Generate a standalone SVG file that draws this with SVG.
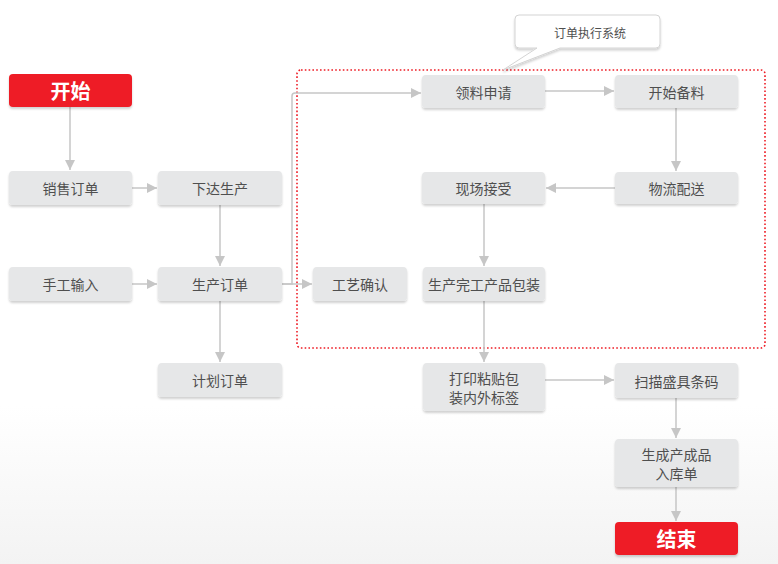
<svg xmlns="http://www.w3.org/2000/svg" width="778" height="564" viewBox="0 0 778 564">
<defs>
<linearGradient id="bg" x1="0" y1="0" x2="0" y2="1">
<stop offset="0.72" stop-color="#ffffff"/>
<stop offset="1" stop-color="#f3f3f3"/>
</linearGradient>
<marker id="arr" viewBox="0 0 10 10" refX="10" refY="5" markerWidth="10" markerHeight="10" markerUnits="userSpaceOnUse" orient="auto">
<path d="M0,0 L10,5 L0,10 z" fill="#c6c6c6"/>
</marker>
<filter id="sh" x="-10%" y="-10%" width="120%" height="140%">
<feDropShadow dx="0" dy="2" stdDeviation="1" flood-color="#000" flood-opacity="0.18"/>
</filter>
</defs>
<style>
.n rect{fill:#e6e7e8;filter:url(#sh)}
.n text,.lbl{font-family:"Noto Sans CJK SC","Liberation Sans",sans-serif;font-size:14px;fill:#4f4f4f;text-anchor:middle;dominant-baseline:central}
.t rect{fill:#ee1c25;filter:url(#sh)}
.t text{font-family:"Noto Sans CJK SC","Liberation Sans",sans-serif;font-size:20px;font-weight:bold;fill:#fff;text-anchor:middle;dominant-baseline:central}
.c{fill:none;stroke:#c6c6c6;stroke-width:1.5;marker-end:url(#arr)}
</style>
<rect width="778" height="564" fill="url(#bg)"/>

<g id="system">
<rect x="297" y="70" width="468" height="278" rx="4" fill="none" stroke="#ee1c25" stroke-width="1.6" stroke-dasharray="1.6 2.2"/>
<g filter="url(#sh)">
<path d="M519,15 H656 a4,4 0 0 1 4,4 V44 a4,4 0 0 1 -4,4 H560 L503,70 L537,48 H519 a4,4 0 0 1 -4,-4 V19 a4,4 0 0 1 4,-4 z" fill="#fff" stroke="#d4d4d4" stroke-width="1"/>
</g>
<text class="lbl" x="590" y="32" style="font-size:12px">订单执行系统</text>
</g>

<g id="connectors">
<path class="c" d="M70,107 V170"/>
<path class="c" d="M132,188 H157"/>
<path class="c" d="M220,205 V266"/>
<path class="c" d="M132,284 H157"/>
<path class="c" d="M220,301 V362"/>
<path class="c" d="M282,284 H312"/>
<path class="c" d="M282,284 H292 V96 a3,3 0 0 1 3,-3 H421"/>
<path class="c" d="M545,91 H614"/>
<path class="c" d="M676,108 V171"/>
<path class="c" d="M615,188 H546"/>
<path class="c" d="M484,204 V266"/>
<path class="c" d="M484,301 V362"/>
<path class="c" d="M545,380 H614"/>
<path class="c" d="M676,398 V438"/>
<path class="c" d="M676,487 V521"/>
</g>

<g id="start" class="t"><rect x="9" y="74" width="123" height="33" rx="4"/><text x="70.5" y="90.5">开始</text></g>
<g id="xiaoshou" class="n"><rect x="9" y="171" width="123" height="34" rx="4"/><text x="70.5" y="188">销售订单</text></g>
<g id="xiada" class="n"><rect x="158" y="171" width="124" height="34" rx="4"/><text x="220" y="188">下达生产</text></g>
<g id="shougong" class="n"><rect x="9" y="267" width="123" height="34" rx="4"/><text x="70.5" y="284">手工输入</text></g>
<g id="shengchan" class="n"><rect x="158" y="267" width="124" height="34" rx="4"/><text x="220" y="284">生产订单</text></g>
<g id="jihua" class="n"><rect x="158" y="363" width="124" height="34" rx="4"/><text x="220" y="380">计划订单</text></g>
<g id="gongyi" class="n"><rect x="313" y="267" width="94" height="34" rx="4"/><text x="360" y="284">工艺确认</text></g>
<g id="lingliao" class="n"><rect x="422" y="75" width="123" height="33" rx="4"/><text x="483.5" y="91.5">领料申请</text></g>
<g id="beiliao" class="n"><rect x="615" y="75" width="123" height="33" rx="4"/><text x="676.5" y="91.5">开始备料</text></g>
<g id="xianchang" class="n"><rect x="422" y="172" width="123" height="32" rx="4"/><text x="483.5" y="188">现场接受</text></g>
<g id="wuliu" class="n"><rect x="615" y="172" width="123" height="32" rx="4"/><text x="676.5" y="188">物流配送</text></g>
<g id="wangong" class="n"><rect x="423" y="267" width="122" height="34" rx="4"/><text x="484" y="284">生产完工产品包装</text></g>
<g id="dayin" class="n"><rect x="423" y="363" width="122" height="48" rx="4"/><text x="484" y="377.5">打印粘贴包</text><text x="484" y="397">装内外标签</text></g>
<g id="saomiao" class="n"><rect x="615" y="363" width="123" height="35" rx="4"/><text x="676.5" y="380.5">扫描盛具条码</text></g>
<g id="ruku" class="n"><rect x="615" y="439" width="123" height="48" rx="4"/><text x="676.5" y="453.5">生成产成品</text><text x="676.5" y="473">入库单</text></g>
<g id="end" class="t"><rect x="615" y="522" width="123" height="33" rx="4"/><text x="676.5" y="538.5">结束</text></g>
</svg>
